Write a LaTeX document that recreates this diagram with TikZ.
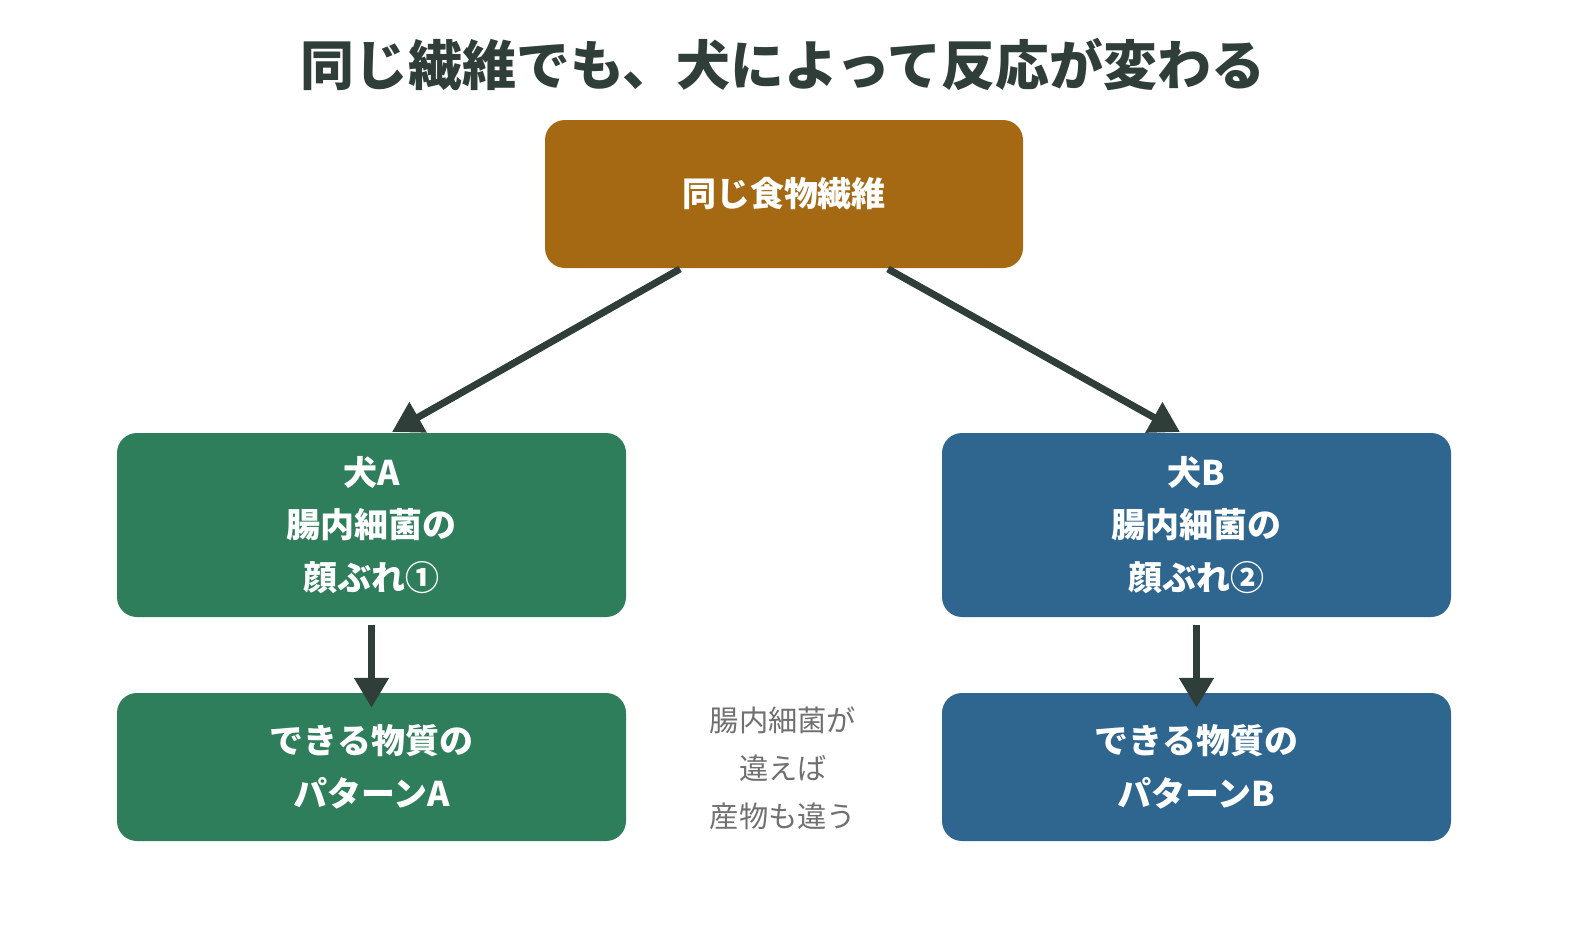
\documentclass[tikz,border=0pt]{standalone}
\usepackage{fontspec}
\setmainfont{Noto Sans CJK JP}
\usetikzlibrary{arrows.meta}
\definecolor{brn}{HTML}{A66913}
\definecolor{grn}{HTML}{2E7D5B}
\definecolor{blu}{HTML}{2F668F}
\definecolor{arr}{HTML}{2F3E38}
\definecolor{gry}{HTML}{707070}
\begin{document}
\begin{tikzpicture}[x=0.03cm,y=-0.03cm,
 box/.style={rounded corners=0.6cm,inner sep=0,text=white,align=center,font=\fontsize{29}{45}\selectfont\bfseries},
 ar/.style={draw=arr,line width=0.21cm,-{Triangle[length=0.9cm,width=1cm]}}]
\useasboundingbox (0,0) rectangle (1590,948);
\node[font=\fontsize{46}{50}\selectfont\bfseries,text=arr] (t) at (783,65) {同じ繊維でも、犬によって反応が変わる};
\node[box,fill=brn,minimum width=478*0.03cm,minimum height=148*0.03cm] (top) at (784,194) {同じ食物繊維};
\node[box,fill=grn,minimum width=509*0.03cm,minimum height=184*0.03cm] (a) at (371.5,525) {犬A\\腸内細菌の\\顔ぶれ①};
\node[box,fill=blu,minimum width=509*0.03cm,minimum height=184*0.03cm] (b) at (1196.5,525) {犬B\\腸内細菌の\\顔ぶれ②};
\node[box,fill=grn,minimum width=509*0.03cm,minimum height=148*0.03cm] (pa) at (371.5,767) {できる物質の\\パターンA};
\node[box,fill=blu,minimum width=509*0.03cm,minimum height=148*0.03cm] (pb) at (1196.5,767) {できる物質の\\パターンB};
\node[text=gry,align=center,font=\fontsize{25}{41}\selectfont] (m) at (783,768) {腸内細菌が\\違えば\\産物も違う};
\coordinate (s1) at (680,269); \coordinate (e1) at (392,432);
\coordinate (s2) at (888,269); \coordinate (e2) at (1180,432);
\draw[ar] (s1) -- (e1);
\draw[ar] (s2) -- (e2);
\draw[ar] (a.south) ++(0,8) -- ([yshift=-0.45cm]pa.north);
\draw[ar] (b.south) ++(0,8) -- ([yshift=-0.45cm]pb.north);
\end{tikzpicture}
\end{document}
